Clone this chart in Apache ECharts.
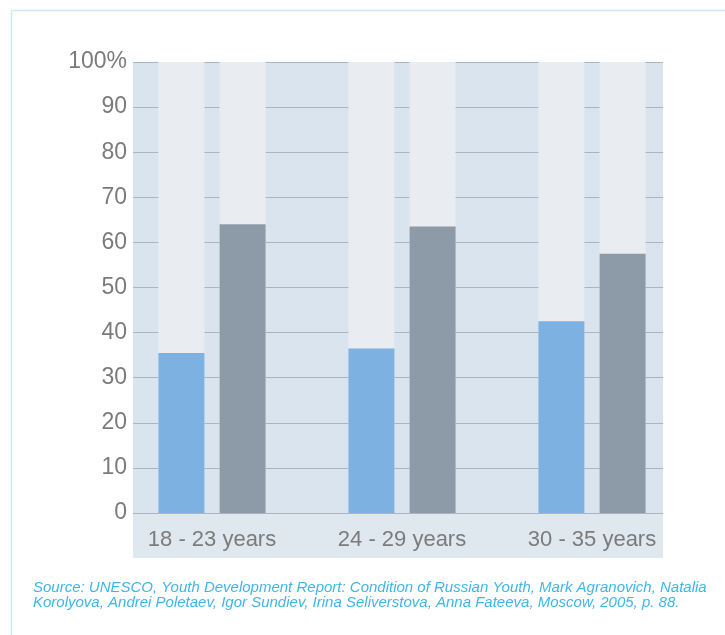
<!DOCTYPE html>
<html>
<head>
<meta charset="utf-8">
<script src="https://cdn.jsdelivr.net/npm/echarts@6/dist/echarts.min.js"></script>
<style>html,body{margin:0;padding:0;background:#fff}#c{width:725px;height:635px}</style>
</head>
<body>
<div id="c"></div>
<script>
var categories = ['18 - 23 years', '24 - 29 years', '30 - 35 years'];
var seriesA = [35.5, 36.5, 42.5];
var seriesB = [64, 63.5, 57.5];
var yTicks = [0, 10, 20, 30, 40, 50, 60, 70, 80, 90, 100];
var sourceLines = [
  'Source: UNESCO, Youth Development Report: Condition of Russian Youth, Mark Agranovich, Natalia',
  'Korolyova, Andrei Poletaev, Igor Sundiev, Irina Seliverstova, Anna Fateeva, Moscow, 2005, p. 88.'
];

var chart = echarts.init(document.getElementById('c'));
var font = 'Liberation Sans, Arial, sans-serif';
chart.setOption({
  animation: false,
  grid: [
    {left: 133, right: 62, top: 62, bottom: 122, show: true, backgroundColor: '#d9e4ef', borderWidth: 0},
    {left: 117, right: 38, top: 62, bottom: 122}
  ],
  graphic: [
    {type: 'line', shape: {x1: 11.5, y1: 10.5, x2: 11.5, y2: 635}, style: {stroke: '#cde9f6', lineWidth: 1.5}},
    {type: 'line', shape: {x1: 11.5, y1: 10.5, x2: 725, y2: 10.5}, style: {stroke: '#cde9f6', lineWidth: 1.5}},
    {type: 'rect', shape: {x: 133, y: 513, width: 530, height: 45}, style: {fill: '#dfe7ef'}, z: -1},
    {type: 'text', left: 33, top: 580, style: {text: sourceLines.join('\n'), font: 'italic 15px ' + font, fill: '#3fb6e8', lineHeight: 15}}
  ],
  xAxis: [
    {gridIndex: 0, type: 'category', data: categories, show: false},
    {gridIndex: 1, type: 'category', data: categories,
     axisLine: {show: false}, axisTick: {show: false},
     axisLabel: {fontSize: 22, color: '#7b7b7b', fontFamily: font, margin: 16}}
  ],
  yAxis: [
    {gridIndex: 0, type: 'value', min: 0, max: 100, interval: 10,
     axisLine: {show: false}, axisTick: {show: false},
     splitLine: {show: true, lineStyle: {color: '#aab5c1', width: 1}},
     axisLabel: {fontSize: 23, color: '#7b7b7b', fontFamily: font, margin: 6,
       formatter: function (v) { return v === 100 ? '100%' : String(v); }}},
    {gridIndex: 1, type: 'value', min: 0, max: 100, interval: 10, show: false, splitLine: {show: false}}
  ],
  series: [
    {type: 'bar', xAxisIndex: 1, yAxisIndex: 1, data: seriesA, barWidth: 46, barGap: '33%',
     itemStyle: {color: '#7cb1e2'}, showBackground: true, backgroundStyle: {color: '#e9edf2'}},
    {type: 'bar', xAxisIndex: 1, yAxisIndex: 1, data: seriesB, barWidth: 46, barGap: '33%',
     itemStyle: {color: '#8d9ba8'}, showBackground: true, backgroundStyle: {color: '#e9edf2'}}
  ]
});
</script>
</body>
</html>
